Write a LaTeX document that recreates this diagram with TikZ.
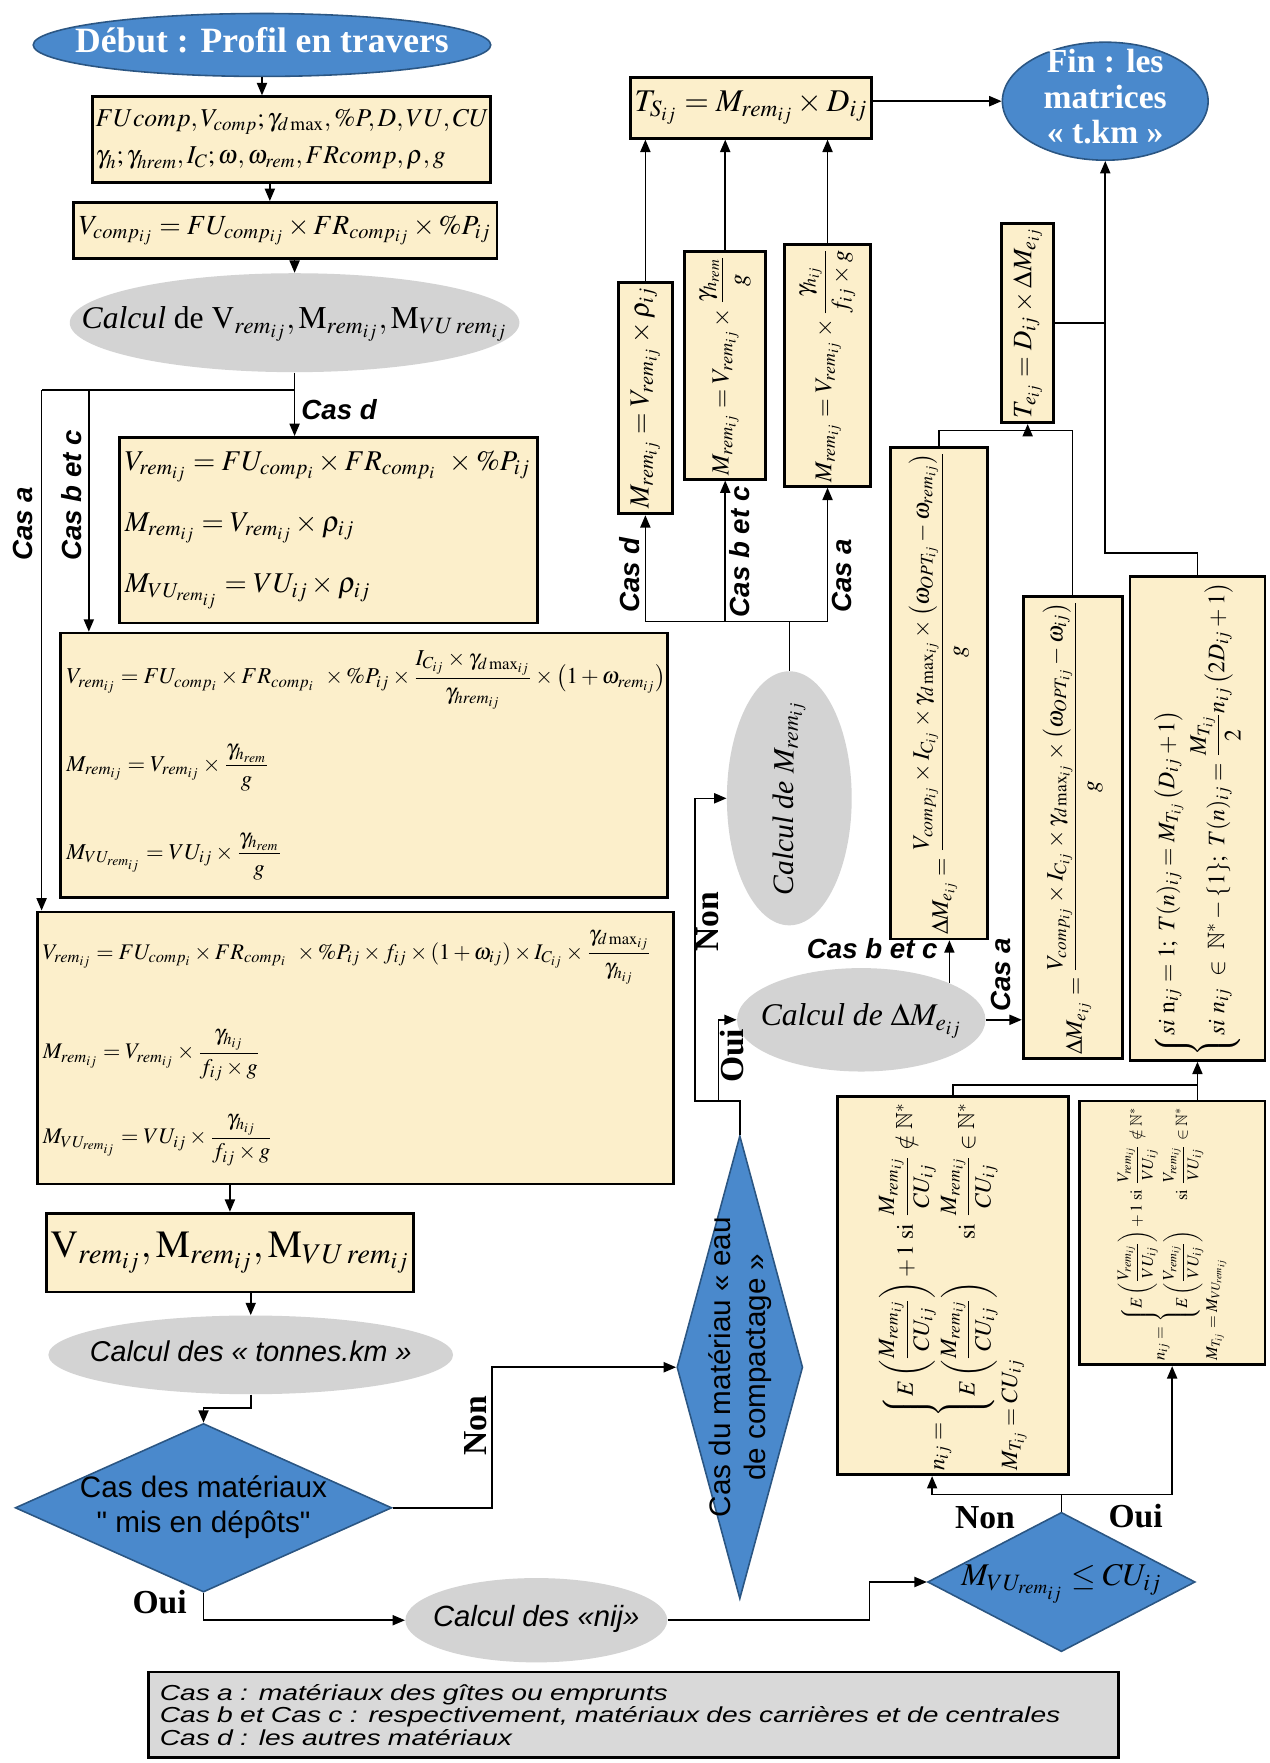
\documentclass[tikz,border=0pt]{standalone}
\usepackage{amsmath,amssymb}
\usepackage{mathptmx}
\usepackage{graphicx}
\usepackage{fontspec}
\setmainfont{Liberation Serif}
\setsansfont{Liberation Sans}
\newfontfamily\legendfont[FakeStretch=1.3]{Liberation Sans}
\newfontfamily\diafont[Ligatures=TeXOff]{Liberation Sans}
\usepackage{xcolor}
\definecolor{boxfill}{HTML}{FCEFCB}
\definecolor{bluefill}{HTML}{4A89CC}
\definecolor{blueborder}{HTML}{2B5683}
\definecolor{grayfill}{HTML}{D3D3D3}
\definecolor{legendfill}{HTML}{D9D9D9}
\usepackage{tikz}
\usetikzlibrary{positioning,arrows.meta,shapes.geometric}
\tikzset{
    eqbox/.style={
        rectangle,
        draw=black,
        fill=boxfill,
        line width=1.4pt,
        inner sep=2pt,
    },
    startend/.style={
        ellipse,
        draw=blueborder,
        fill=bluefill,
        line width=0.8pt,
        inner sep=0pt,
        text=white,
    },
    calcell/.style={
        ellipse,
        fill=grayfill,
        inner sep=0pt,
    },
    decision/.style={
        diamond,
        draw=blueborder,
        fill=bluefill,
        line width=0.8pt,
        inner sep=0pt,
    },
    flow/.style={
        -{Triangle[length=2.2mm,width=1.8mm]},
        line width=0.8pt,
    },
    wire/.style={
        line width=0.8pt,
    },
    caslabel/.style={
        font=\sffamily\bfseries\itshape\fontsize{14}{16}\selectfont,
        inner sep=1pt,
    },
    ouinon/.style={
        font=\bfseries\fontsize{17}{19}\selectfont,
        inner sep=1pt,
    },
    legendbox/.style={
        rectangle,
        draw=black,
        fill=legendfill,
        line width=1.4pt,
        align=left,
    },
}
\newcommand{\zerobox}[1]{\makebox[0pt]{\smash{\raisebox{-.25em}{\begin{tabular}{@{}c@{}}#1\end{tabular}}}}}

\begin{document}
\begin{tikzpicture}[x=0.02cm, y=-0.02cm]
    \useasboundingbox (0,0) rectangle (1129,1568);

    % left column
    \node[startend, minimum width=8.14cm, minimum height=1.12cm, font=\bfseries\fontsize{18}{20}\selectfont] (start) at (233,40) {\zerobox{Début : Profil en travers}};
    \node[eqbox, text width=6.96cm, inner xsep=0.06cm, minimum height=1.52cm, align=left, font=\fontsize{13}{19}\selectfont] (inputs) at (259,124) {$FUcomp,V_{comp};\gamma_{d\max},\%P,D,VU,CU$\\$\gamma_h;\gamma_{hrem},I_C;\omega,\omega_{rem},FRcomp,\rho,g$};
    \node[eqbox, minimum width=7.54cm, minimum height=1cm, font=\fontsize{14}{16}\selectfont] (vcomp) at (253.5,205) {$V_{comp_{ij}}=FU_{comp_{ij}}\times FR_{comp_{ij}}\times\%P_{ij}$};
    \node[calcell, minimum width=8cm, minimum height=1.76cm, font=\fontsize{16}{18}\selectfont] (calcV) at (262,287) {\zerobox{\textit{Calcul} de $\mathrm{V}_{rem_{ij}},\mathrm{M}_{rem_{ij}},\mathrm{M}_{VU\,rem_{ij}}$}};

    \node[eqbox, text width=7.24cm, inner xsep=0.1cm, minimum height=3.3cm, align=left, font=\fontsize{14.5}{17}\selectfont] (casD) at (292,471.5) {$V_{rem_{ij}}=FU_{comp_i}\times FR_{comp_i}\ \times\%P_{ij}$\\[14pt]$M_{rem_{ij}}=V_{rem_{ij}}\times\rho_{ij}$\\[14pt]$M_{VU_{rem_{ij}}}=VU_{ij}\times\rho_{ij}$};
    \node[eqbox, text width=10.6cm, inner xsep=0.1cm, minimum height=4.7cm, align=left, font=\fontsize{11.5}{14}\selectfont] (casBC) at (324,680.5) {\mbox{$V_{rem_{ij}}=FU_{comp_i}\times FR_{comp_i}\ \times\%P_{ij}\times\dfrac{I_{C_{ij}}\times\gamma_{d\max_{ij}}}{\gamma_{hrem_{ij}}}\times\left(1+\omega_{rem_{ij}}\right)$}\\[17pt]$M_{rem_{ij}}=V_{rem_{ij}}\times\dfrac{\gamma_{h_{rem}}}{g}$\\[20pt]$M_{VU_{rem_{ij}}}=VU_{ij}\times\dfrac{\gamma_{h_{rem}}}{g}$};
    \node[eqbox, text width=11.12cm, inner xsep=0.1cm, minimum height=4.84cm, align=left, font=\fontsize{11.3}{14}\selectfont] (casA) at (316,932) {\mbox{$V_{rem_{ij}}=FU_{comp_i}\times FR_{comp_i}\ \times\%P_{ij}\times f_{ij}\times\left(1+\omega_{ij}\right)\times I_{C_{ij}}\times\dfrac{\gamma_{d\max_{ij}}}{\gamma_{h_{ij}}}$}\\[22pt]$M_{rem_{ij}}=V_{rem_{ij}}\times\dfrac{\gamma_{h_{ij}}}{f_{ij}\times g}$\\[16pt]$M_{VU_{rem_{ij}}}=VU_{ij}\times\dfrac{\gamma_{h_{ij}}}{f_{ij}\times g}$};

    \node[eqbox, minimum width=6.5cm, minimum height=1.4cm, font=\fontsize{19.5}{22}\selectfont] (res) at (204.5,1114) {$\mathrm{V}_{rem_{ij}},\mathrm{M}_{rem_{ij}},\mathrm{M}_{VU\,rem_{ij}}$};
    \node[calcell, minimum width=7.2cm, minimum height=1.4cm, font=\sffamily\itshape\fontsize{14.5}{17}\selectfont] (tonnes) at (223,1205) {\zerobox{Calcul des « tonnes.km »}};
    \node[decision, minimum width=6.7cm, minimum height=3cm, font=\diafont\fontsize{15}{17.6}\selectfont] (dia1) at (181,1341) {\zerobox{Cas des matériaux\\" mis en dépôts"}};
    \node[decision, minimum width=2.24cm, minimum height=8.24cm,
          label={[rotate=90, align=center, font=\sffamily\fontsize{15}{17.6}\selectfont]center:Cas du matériau « eau\\de compactage »}] (dia2) at (658,1216) {};
    \node[calcell, minimum width=4.66cm, minimum height=1.5cm, font=\sffamily\itshape\fontsize{14.8}{17}\selectfont] (nij) at (477,1441) {\zerobox{Calcul des «nij»}};
    \node[decision, minimum width=4.76cm, minimum height=2.48cm, font=\fontsize{16}{18}\selectfont] (dia3) at (944,1407) {\zerobox{$M_{VU_{rem_{ij}}}\le CU_{ij}$}};

    \node[legendbox, text width=16.86cm, inner xsep=0.2cm, minimum height=1.52cm, font=\legendfont\itshape\fontsize{11}{11.4}\selectfont] (legend) at (563.5,1525) {Cas a : matériaux des gîtes ou emprunts\\Cas b et Cas c : respectivement, matériaux des carrières et de centrales\\Cas d : les autres matériaux};

    % middle and right columns
    \node[eqbox, minimum width=4.12cm, minimum height=1.08cm, font=\fontsize{16}{18}\selectfont] (Ts) at (668,96) {$T_{S_{ij}}=M_{rem_{ij}}\times D_{ij}$};
    \node[eqbox, minimum width=0.96cm, minimum height=4.12cm, font=\fontsize{14}{16}\selectfont] (Md) at (574,354) {\rotatebox{90}{$M_{rem_{ij}}=V_{rem_{ij}}\times\rho_{ij}$}};
    \node[eqbox, minimum width=1.44cm, minimum height=4.04cm, font=\fontsize{12.5}{15}\selectfont] (Mbc) at (645,325) {\rotatebox{90}{$M_{rem_{ij}}=V_{rem_{ij}}\times\dfrac{\gamma_{h_{rem}}}{g}$}};
    \node[eqbox, minimum width=1.52cm, minimum height=4.28cm, font=\fontsize{12.2}{15}\selectfont] (Ma) at (736,325) {\rotatebox{90}{$M_{rem_{ij}}=V_{rem_{ij}}\times\dfrac{\gamma_{h_{ij}}}{f_{ij}\times g}$}};
    \node[calcell, minimum width=2.22cm, minimum height=4.52cm,
          label={[rotate=90, font=\itshape\fontsize{15}{17}\selectfont]center:Calcul de $M_{rem_{ij}}$}] (calcM) at (702,710) {};
    \node[calcell, minimum width=4.42cm, minimum height=1.84cm, font=\itshape\fontsize{16}{18}\selectfont] (calcDM) at (766,907) {\zerobox{Calcul de $\Delta M_{e_{ij}}$}};

    \node[eqbox, minimum width=1.72cm, minimum height=8.38cm, font=\fontsize{12}{14}\selectfont] (DMbc) at (835,616.5) {\rotatebox{90}{$\Delta M_{e_{ij}}=\dfrac{V_{comp_{ij}}\times I_{C_{ij}}\times\gamma_{d\max_{ij}}\times\left(\omega_{OPT_{ij}}-\omega_{rem_{ij}}\right)}{g}$}};
    \node[eqbox, minimum width=1.76cm, minimum height=8.2cm, font=\fontsize{11.9}{14}\selectfont] (DMa) at (954,736) {\rotatebox{90}{$\Delta M_{e_{ij}}=\dfrac{V_{comp_{ij}}\times I_{C_{ij}}\times\gamma_{d\max_{ij}}\times\left(\omega_{OPT_{ij}}-\omega_{ij}\right)}{g}$}};
    \node[eqbox, minimum width=2.4cm, minimum height=8.52cm, font=\fontsize{12}{14}\selectfont] (MT) at (1065,728) {\rotatebox{90}{$\left\{\begin{array}{@{}l@{}}si\ \mathrm{n}_{ij}=1;\ T(n)_{ij}=M_{T_{ij}}\left(D_{ij}+1\right)\\[4pt] si\ n_{ij}\ \in\ \mathbb{N}^{*}-\{1\};\ T(n)_{ij}=\dfrac{M_{T_{ij}}}{2}n_{ij}\left(2D_{ij}+1\right)\end{array}\right.$}};
    \node[eqbox, minimum width=0.92cm, minimum height=3.46cm, font=\fontsize{13.5}{16}\selectfont] (Te) at (914,287.5) {\rotatebox{90}{$T_{e_{ij}}=D_{ij}\times\Delta M_{e_{ij}}$}};
    \node[startend, minimum width=3.66cm, minimum height=2.1cm, font=\bfseries\fontsize{17}{18}\selectfont] (Fin) at (983,90) {\zerobox{Fin : les\\matrices\\« t.km »}};

    \node[eqbox, minimum width=4.1cm, minimum height=6.7cm, font=\fontsize{11.8}{14}\selectfont] (nNon) at (847.5,1143.5) {\rotatebox{90}{\begin{tabular}{@{}l@{}}$n_{ij}=\left\{\begin{array}{@{}l@{\ }l@{}}E\left(\dfrac{M_{rem_{ij}}}{CU_{ij}}\right)+1 & \mathrm{si}\ \dfrac{M_{rem_{ij}}}{CU_{ij}}\notin\mathbb{N}^{*}\\[10pt] E\left(\dfrac{M_{rem_{ij}}}{CU_{ij}}\right) & \mathrm{si}\ \dfrac{M_{rem_{ij}}}{CU_{ij}}\in\mathbb{N}^{*}\end{array}\right.$\\[12pt]$M_{T_{ij}}=CU_{ij}$\end{tabular}}};
    \node[eqbox, minimum width=3.3cm, minimum height=4.66cm, font=\fontsize{8.3}{10}\selectfont] (nOui) at (1042.5,1096.5) {\rotatebox{90}{\begin{tabular}{@{}l@{}}$n_{ij}=\left\{\begin{array}{@{}l@{\ }l@{}}E\left(\dfrac{V_{rem_{ij}}}{VU_{ij}}\right)+1 & \mathrm{si}\ \dfrac{V_{rem_{ij}}}{VU_{ij}}\notin\mathbb{N}^{*}\\[8pt] E\left(\dfrac{V_{rem_{ij}}}{VU_{ij}}\right) & \mathrm{si}\ \dfrac{V_{rem_{ij}}}{VU_{ij}}\in\mathbb{N}^{*}\end{array}\right.$\\[10pt]$M_{T_{ij}}=M_{VU_{rem_{ij}}}$\end{tabular}}};

    % connectors, left column
    \draw[flow] (start.south) -- (start.south |- inputs.north);
    \draw[flow] ([xshift=-0.38cm]inputs.south) -- ([xshift=-0.38cm]inputs.south |- vcomp.north);
    \draw[flow] (calcV.north |- vcomp.south) -- (calcV.north);
    \coordinate (brA) at (37,347);
    \coordinate (brBC) at (79,347);
    \draw[flow] (calcV.south) -- (calcV.south |- casD.north);
    \draw[wire] (calcV.south |- brA) -- (brA);
    \draw[flow] (brBC) -- (brBC |- casBC.north);
    \draw[flow] (brA) -- (brA |- casA.north);
    \node[caslabel, anchor=west] (lblD) at (266,364) {Cas d};
    \node[caslabel, rotate=90, anchor=south west] (lblBC) at (75,501) {Cas b et c};
    \node[caslabel, rotate=90, anchor=south west] (lblA) at (31,501) {Cas a};

    \draw[flow] (res.north |- casA.south) -- (res.north);
    \draw[flow] (tonnes.north |- res.south) -- (tonnes.north);
    \draw[flow] (tonnes.south) -- ++(0,12) -| (dia1.north);
    \draw[flow] (dia1.east) -- ++(88.5,0) |- (dia2.west);
    \node[ouinon, rotate=90, anchor=south west] (lblNon1) at (435,1297) {Non};
    \draw[flow] (dia1.south) |- (nij.west);
    \node[ouinon] (lblOui1) at (142,1425) {Oui};
    \draw[flow] (nij.east) -- ++(179.5,0) |- (dia3.west);

    % water of compaction
    \path (dia2.north) ++(0,-30) coordinate (j2);
    \draw[flow] (dia2.north) -- (j2) -- ++(-40,0) |- (calcM.west);
    \draw[flow] ([xshift=-0.38cm]j2) |- (calcDM.west);
    \node[ouinon, rotate=90] (lblNon2) at (629,820) {Non};
    \node[ouinon, rotate=90] (lblOui2) at (651,939) {Oui};

    \path (calcM.north) ++(0,-44) coordinate (jm);
    \draw[wire] (calcM.north) -- (jm);
    \draw[wire] (Md.south |- jm) -- (Ma.south |- jm);
    \draw[flow] (Md.south |- jm) -- (Md.south);
    \draw[flow] (Mbc.south |- jm) -- (Mbc.south);
    \draw[flow] (Ma.south |- jm) -- (Ma.south);
    \node[caslabel, rotate=90, anchor=south west] (lblD2) at (571,547) {Cas d};
    \node[caslabel, rotate=90, anchor=north west] (lblBC2) at (647,551) {Cas b et c};
    \node[caslabel, rotate=90, anchor=north west] (lblA2) at (738,547) {Cas a};
    \draw[flow] (Md.north) -- (Md.north |- Ts.south);
    \draw[flow] (Mbc.north) -- (Mbc.north |- Ts.south);
    \draw[flow] (Ma.north) -- (Ma.north |- Ts.south);
    \draw[flow] (Ts.east |- Fin.west) -- (Fin.west);

    \draw[flow] (calcDM.north east) -- (calcDM.north east |- DMbc.south);
    \node[caslabel, anchor=east] (lblBC3) at (836,844) {Cas b et c};
    \draw[flow] (calcDM.east) -- (calcDM.east -| DMa.west);
    \node[caslabel, rotate=90, anchor=west] (lblA3) at (890,902) {Cas a};
    \path (DMbc.north) ++(0,-14) coordinate (jt);
    \draw[wire] (DMbc.north) -- (jt) -| (DMa.north);
    \draw[flow] (Te.south |- jt) -- (Te.south);
    \draw[flow] (MT.north) -- ++(0,-20) -| (Fin.south);
    \draw[wire] (Te.east) -- (Te.east -| Fin.south);

    % number of trips
    \path (dia3.north) ++(0,-15) coordinate (jd);
    \draw[wire] (dia3.north) -- (jd);
    \draw[flow] (jd) -| ([xshift=-0.37cm]nNon.south);
    \draw[flow] (jd) -| (nOui.south);
    \node[ouinon] (lblNon3) at (876,1350) {Non};
    \node[ouinon] (lblOui3) at (1010,1348) {Oui};
    \path (nNon.north) ++(0,-9) coordinate (jn);
    \draw[wire] (nNon.north) -- (jn) -- (jn -| MT.south);
    \draw[flow] (nOui.north -| MT.south) -- (MT.south);
\end{tikzpicture}
\end{document}
